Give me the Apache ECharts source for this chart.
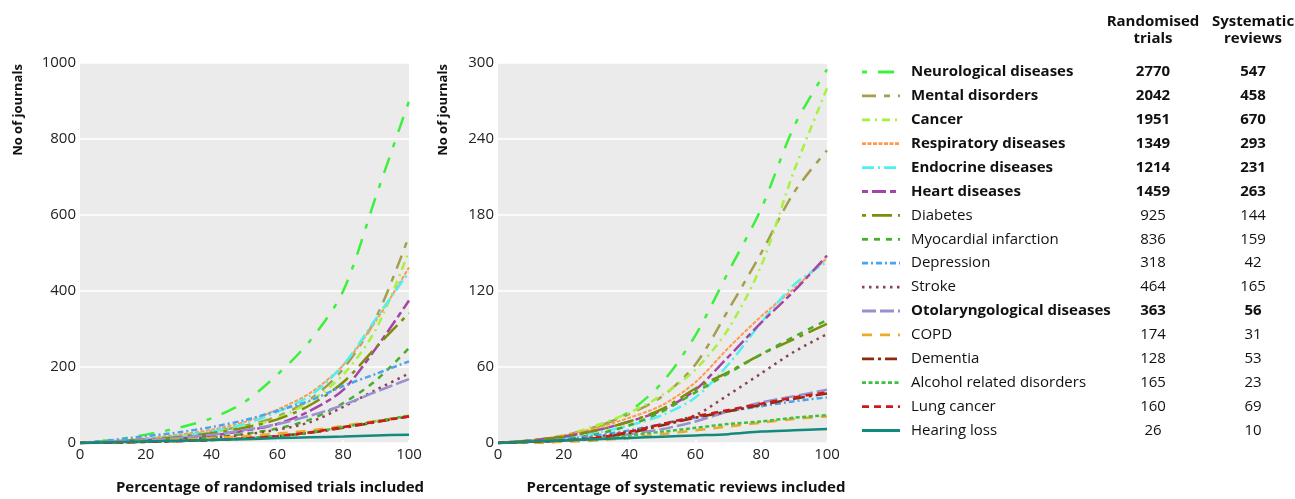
<!DOCTYPE html>
<html><head><meta charset="utf-8">
<script src="https://cdn.jsdelivr.net/npm/echarts@6/dist/echarts.min.js"></script>
<style>html,body{margin:0;padding:0;background:#fff}#c{width:1295px;height:499px}</style>
</head><body><div id="c"></div>
<script>
const percent = [0,10,20,30,40,50,60,70,80,90,100];
const names = ['Neurological diseases','Mental disorders','Cancer','Respiratory diseases','Endocrine diseases','Heart diseases','Diabetes','Myocardial infarction','Depression','Stroke','Otolaryngological diseases','COPD','Dementia','Alcohol related disorders','Lung cancer','Hearing loss'];
const trialCounts = [2770,2042,1951,1349,1214,1459,925,836,318,464,363,174,128,165,160,26];
const reviewCounts = [547,458,670,293,231,263,144,159,42,165,56,31,53,23,69,10];
const boldRows = [true,true,true,true,true,true,false,false,false,false,true,false,false,false,false,false];

// Journals needed vs percentage of randomised trials included
const trialsNeurological = [0,8,22,40,65,108,180,270,400,650,900];
const trialsMental       = [0,4,10,18,30,45,70,115,195,330,545];
const trialsCancer       = [0,4,10,18,28,42,65,110,180,300,505];
const trialsRespiratory  = [0,5,12,22,35,55,88,132,205,322,462];
const trialsEndocrine    = [0,4,10,18,30,50,82,125,205,328,450];
const trialsHeart        = [0,3,7,12,20,32,50,85,140,250,375];
const trialsDiabetes     = [0,4,9,16,26,40,62,100,160,252,342];
const trialsMI           = [0,2,5,9,15,24,38,62,105,165,250];
const trialsDepression   = [0,8,18,28,42,60,85,112,150,182,215];
const trialsStroke       = [0,2,5,9,14,22,35,55,95,140,183];
const trialsOto          = [0,3,8,14,22,34,50,72,100,135,168];
const trialsCOPD         = [0,2,5,9,13,18,25,33,45,58,72];
const trialsDementia     = [0,1,3,5,8,12,18,27,40,55,70];
const trialsAlcohol      = [0,1,3,5,8,12,18,28,42,57,72];
const trialsLungCancer   = [0,1,3,5,8,12,18,28,42,56,70];
const trialsHearing      = [0,2,4,6,8,10,13,15,17,20,22];

// Journals needed vs percentage of systematic reviews included
const reviewsNeurological = [0,2,5,12,25,48,85,135,185,250,295];
const reviewsMental       = [0,2,6,13,23,37,62,105,150,198,231];
const reviewsCancer       = [0,2,6,14,24,38,58,90,140,215,280];
const reviewsRespiratory  = [0,2,6,12,20,30,48,75,100,122,146];
const reviewsEndocrine    = [0,2,4,8,14,22,36,62,95,125,143];
const reviewsHeart        = [0,2,5,10,17,26,42,68,95,120,148];
const reviewsDiabetes     = [0,2,5,10,17,27,43,56,70,82,94];
const reviewsMI           = [0,1,3,7,14,25,40,55,70,84,97];
const reviewsDepression   = [0,1,3,6,10,15,20,25,29,33,36];
const reviewsStroke       = [0,1,2,5,9,15,22,38,55,72,86];
const reviewsOto          = [0,1,2,4,7,11,17,25,32,37,42];
const reviewsCOPD         = [0,0,1,2,4,7,10,13,16,19,21];
const reviewsDementia     = [0,1,2,4,8,14,20,25,30,35,39];
const reviewsAlcohol      = [0,1,2,3,6,9,12,15,17,20,22];
const reviewsLungCancer   = [0,1,2,4,9,15,21,26,31,36,40];
const reviewsHearing      = [0,1,2,3,4,5,6,7,9,10,11];

const trialSeries = [trialsNeurological,trialsMental,trialsCancer,trialsRespiratory,trialsEndocrine,trialsHeart,trialsDiabetes,trialsMI,trialsDepression,trialsStroke,trialsOto,trialsCOPD,trialsDementia,trialsAlcohol,trialsLungCancer,trialsHearing];
const reviewSeries = [reviewsNeurological,reviewsMental,reviewsCancer,reviewsRespiratory,reviewsEndocrine,reviewsHeart,reviewsDiabetes,reviewsMI,reviewsDepression,reviewsStroke,reviewsOto,reviewsCOPD,reviewsDementia,reviewsAlcohol,reviewsLungCancer,reviewsHearing];

const leftTicks = {min:0,max:1000,interval:200};
const rightTicks = {min:0,max:300,interval:60};

// styles
const colors = ['#3ef03e','#a39f4c','#a6f23c','#ff9a4c','#4ef0f0','#a444a8','#7f8c0a','#44b02a','#4aa3f0','#8a4450','#9a8fd0','#f0a82a','#8a2e0a','#40c040','#d01818','#138a7e'];
const dashes = [[5,11,16,11],[14,8,6,8],[8,5,2,5],[4,1.5],[12,4,2,4],[6,4,14,4],[4,6,20,6],[6,6],[6,3,2,3],[2.5,4.5],[14,4],[10,8],[12,4,3,4],[4,2.5],[7,5],'solid'];
const widths = [2.5,2.5,2.5,2,2.5,2.5,2.5,2.5,2.5,2.5,2.5,2.5,2.5,2.5,2.5,2.5];

const FONT = '"Open Sans", "Noto Sans", sans-serif';
const chart = echarts.init(document.getElementById('c'));

function mkSeries(arr, idx) {
  return names.map((n, i) => ({
    name: n, type: 'line', xAxisIndex: idx, yAxisIndex: idx,
    data: percent.map((p, k) => [p, arr[i][k]]),
    smooth: 0.3, symbol: 'none', silent: true,
    lineStyle: { color: colors[i], width: widths[i], type: dashes[i] }
  }));
}

const axisCommonX = {
  type: 'value', min: 0, max: 100, interval: 20,
  axisLine: { show: false },
  axisTick: { show: true, inside: true, length: 3, lineStyle: { color: '#ffffff', width: 1.5 } },
  axisLabel: { color: '#222', fontSize: 15, fontFamily: FONT, margin: 4 },
  splitLine: { show: false }
};
function yAxis(t, gi) {
  return {
    type: 'value', gridIndex: gi, min: t.min, max: t.max, interval: t.interval,
    axisLine: { show: false }, axisTick: { show: false },
    axisLabel: { color: '#222', fontSize: 15, fontFamily: FONT, margin: 4, formatter: v => String(v) },
    splitLine: { show: true, lineStyle: { color: '#ffffff', width: 1.5 } }
  };
}

const TF = 'bold 15px ' + FONT;
const YF = 'bold 13px ' + FONT;
const graphics = [];
graphics.push({ type: 'text', x: 18, y: 110, rotation: Math.PI / 2,
  style: { text: 'No of journals', font: YF, fill: '#111', align: 'center', verticalAlign: 'middle' } });
graphics.push({ type: 'text', x: 443, y: 110, rotation: Math.PI / 2,
  style: { text: 'No of journals', font: YF, fill: '#111', align: 'center', verticalAlign: 'middle' } });
graphics.push({ type: 'text', x: 270, y: 488,
  style: { text: 'Percentage of randomised trials included', font: TF, fill: '#111', align: 'center', verticalAlign: 'middle' } });
graphics.push({ type: 'text', x: 686, y: 488,
  style: { text: 'Percentage of systematic reviews included', font: TF, fill: '#111', align: 'center', verticalAlign: 'middle' } });
[['Randomised', 1153, 22], ['trials', 1153, 39], ['Systematic', 1253, 22], ['reviews', 1253, 39]].forEach(h => {
  graphics.push({ type: 'text', x: h[1], y: h[2],
    style: { text: h[0], font: TF, fill: '#111', align: 'center', verticalAlign: 'middle' } });
});
names.forEach((n, i) => {
  const y = 72 + i * 23.9;
  const f = (boldRows[i] ? 'bold ' : '') + '15px ' + FONT;
  graphics.push({ type: 'line', shape: { x1: 862, y1: y, x2: 900, y2: y },
    style: { stroke: colors[i], lineWidth: 2.8, lineDash: dashes[i] === 'solid' ? null : dashes[i] } });
  graphics.push({ type: 'text', x: 911, y: y, style: { text: n, font: f, fill: '#111', align: 'left', verticalAlign: 'middle' } });
  graphics.push({ type: 'text', x: 1153, y: y, style: { text: String(trialCounts[i]), font: f, fill: '#111', align: 'center', verticalAlign: 'middle' } });
  graphics.push({ type: 'text', x: 1253, y: y, style: { text: String(reviewCounts[i]), font: f, fill: '#111', align: 'center', verticalAlign: 'middle' } });
});

chart.setOption({
  animation: false,
  backgroundColor: '#ffffff',
  textStyle: { fontFamily: FONT },
  grid: [
    { left: 80, top: 63, width: 329, height: 380, show: true, backgroundColor: '#ebebeb', borderWidth: 0, containLabel: false },
    { left: 498, top: 63, width: 329, height: 380, show: true, backgroundColor: '#ebebeb', borderWidth: 0, containLabel: false }
  ],
  xAxis: [Object.assign({ gridIndex: 0 }, axisCommonX), Object.assign({ gridIndex: 1 }, axisCommonX)],
  yAxis: [yAxis(leftTicks, 0), yAxis(rightTicks, 1)],
  series: mkSeries(trialSeries, 0).concat(mkSeries(reviewSeries, 1)),
  graphic: graphics
});
</script></body></html>
